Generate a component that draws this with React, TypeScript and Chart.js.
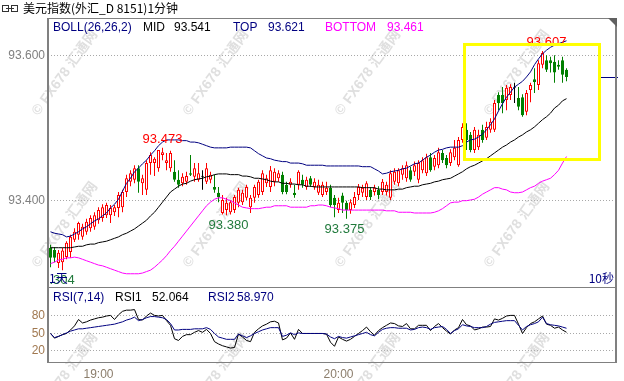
import React, { useEffect, useRef } from 'react';
import { Chart, registerables } from 'chart.js';

Chart.register(...registerables);

// ---------------- DATA ----------------
const titleText = '美元指数(外汇_D 8151)1分钟';

const opens = [
  93.335, 93.332, 93.314, 93.315, 93.322, 93.329, 93.346, 93.353, 93.350, 93.357,
  93.362, 93.364, 93.373, 93.376, 93.380, 93.380, 93.384, 93.390, 93.391, 93.412,
  93.426, 93.429, 93.445, 93.424, 93.415, 93.452, 93.452, 93.445, 93.463, 93.452,
  93.445, 93.440, 93.429, 93.424, 93.426, 93.438, 93.433, 93.429, 93.433, 93.426,
  93.429, 93.419, 93.411, 93.383, 93.387, 93.384, 93.387, 93.397, 93.398, 93.404,
  93.391, 93.404, 93.408, 93.412, 93.424, 93.419, 93.426, 93.431, 93.436, 93.422,
  93.422, 93.411, 93.422, 93.429, 93.419, 93.431, 93.419, 93.411, 93.408, 93.412,
  93.418, 93.404, 93.387, 93.407, 93.397, 93.387, 93.394, 93.408, 93.411, 93.405,
  93.415, 93.412, 93.415, 93.412, 93.412, 93.404, 93.426, 93.424, 93.436, 93.431,
  93.442, 93.440, 93.429, 93.442, 93.438, 93.460, 93.447, 93.449, 93.466, 93.459,
  93.452, 93.460, 93.449, 93.484, 93.498, 93.491, 93.470, 93.474, 93.498, 93.487,
  93.498, 93.498, 93.546, 93.546, 93.539, 93.546, 93.556, 93.542, 93.543, 93.523,
  93.553, 93.568, 93.560, 93.588, 93.594, 93.594, 93.592, 93.588, 93.594, 93.581,
];
const highs = [
  93.339, 93.336, 93.332, 93.335, 93.344, 93.353, 93.362, 93.371, 93.368, 93.375,
  93.380, 93.384, 93.391, 93.395, 93.397, 93.394, 93.394, 93.412, 93.415, 93.436,
  93.442, 93.449, 93.449, 93.436, 93.456, 93.467, 93.460, 93.470, 93.473, 93.466,
  93.469, 93.456, 93.442, 93.438, 93.440, 93.463, 93.452, 93.452, 93.442, 93.452,
  93.440, 93.436, 93.419, 93.408, 93.404, 93.401, 93.408, 93.418, 93.415, 93.422,
  93.408, 93.422, 93.429, 93.442, 93.436, 93.448, 93.445, 93.442, 93.440, 93.426,
  93.431, 93.422, 93.442, 93.436, 93.433, 93.434, 93.431, 93.429, 93.426, 93.426,
  93.422, 93.408, 93.404, 93.411, 93.400, 93.402, 93.412, 93.423, 93.422, 93.427,
  93.419, 93.422, 93.420, 93.430, 93.426, 93.442, 93.445, 93.445, 93.449, 93.454,
  93.447, 93.454, 93.456, 93.460, 93.465, 93.466, 93.463, 93.473, 93.470, 93.463,
  93.471, 93.484, 93.488, 93.507, 93.507, 93.495, 93.502, 93.498, 93.505, 93.509,
  93.514, 93.539, 93.550, 93.557, 93.560, 93.561, 93.563, 93.557, 93.547, 93.553,
  93.563, 93.583, 93.594, 93.607, 93.601, 93.599, 93.601, 93.594, 93.599, 93.583,
];
const lows = [
  93.308, 93.315, 93.307, 93.304, 93.319, 93.321, 93.343, 93.346, 93.346, 93.353,
  93.357, 93.360, 93.368, 93.371, 93.376, 93.369, 93.379, 93.377, 93.384, 93.405,
  93.420, 93.424, 93.411, 93.408, 93.408, 93.436, 93.434, 93.440, 93.456, 93.442,
  93.440, 93.426, 93.418, 93.420, 93.422, 93.434, 93.426, 93.426, 93.415, 93.423,
  93.424, 93.411, 93.398, 93.381, 93.380, 93.381, 93.383, 93.391, 93.394, 93.401,
  93.383, 93.397, 93.404, 93.408, 93.419, 93.412, 93.420, 93.426, 93.409, 93.409,
  93.418, 93.404, 93.415, 93.418, 93.415, 93.419, 93.415, 93.408, 93.405, 93.408,
  93.391, 93.377, 93.383, 93.383, 93.375, 93.382, 93.390, 93.401, 93.405, 93.401,
  93.401, 93.407, 93.402, 93.408, 93.407, 93.401, 93.422, 93.420, 93.429, 93.426,
  93.426, 93.434, 93.424, 93.438, 93.434, 93.440, 93.442, 93.445, 93.452, 93.445,
  93.448, 93.456, 93.447, 93.480, 93.470, 93.467, 93.466, 93.470, 93.480, 93.484,
  93.494, 93.495, 93.525, 93.521, 93.525, 93.539, 93.535, 93.525, 93.516, 93.518,
  93.536, 93.549, 93.553, 93.583, 93.578, 93.577, 93.563, 93.581, 93.563, 93.565,
];
const closes = [
  93.321, 93.321, 93.328, 93.331, 93.342, 93.350, 93.357, 93.369, 93.364, 93.371,
  93.376, 93.380, 93.387, 93.391, 93.394, 93.390, 93.391, 93.408, 93.412, 93.431,
  93.438, 93.445, 93.426, 93.431, 93.452, 93.463, 93.458, 93.470, 93.467, 93.456,
  93.466, 93.429, 93.422, 93.433, 93.434, 93.436, 93.445, 93.438, 93.433, 93.445,
  93.436, 93.415, 93.405, 93.401, 93.397, 93.398, 93.405, 93.415, 93.411, 93.419,
  93.404, 93.419, 93.426, 93.438, 93.431, 93.442, 93.440, 93.438, 93.412, 93.412,
  93.426, 93.408, 93.440, 93.422, 93.429, 93.422, 93.426, 93.422, 93.422, 93.418,
  93.394, 93.394, 93.397, 93.397, 93.387, 93.398, 93.405, 93.419, 93.418, 93.424,
  93.405, 93.418, 93.408, 93.426, 93.422, 93.438, 93.440, 93.442, 93.445, 93.449,
  93.429, 93.449, 93.452, 93.456, 93.460, 93.442, 93.459, 93.467, 93.456, 93.449,
  93.467, 93.473, 93.484, 93.502, 93.484, 93.470, 93.498, 93.491, 93.484, 93.502,
  93.509, 93.535, 93.535, 93.535, 93.556, 93.557, 93.556, 93.530, 93.518, 93.549,
  93.560, 93.564, 93.590, 93.604, 93.581, 93.590, 93.577, 93.585, 93.574, 93.571,
];

const bollUpper = [
  93.357, 93.355, 93.354, 93.353, 93.350, 93.351, 93.354, 93.357, 93.361, 93.364,
  93.368, 93.372, 93.375, 93.379, 93.383, 93.390, 93.395, 93.402, 93.413, 93.424,
  93.431, 93.440, 93.445, 93.451, 93.456, 93.463, 93.469, 93.476, 93.481, 93.484,
  93.484, 93.484, 93.484, 93.483, 93.483, 93.481, 93.481, 93.480, 93.478, 93.476,
  93.474, 93.473, 93.473, 93.473, 93.473, 93.474, 93.474, 93.474, 93.474, 93.474,
  93.473, 93.469, 93.465, 93.462, 93.459, 93.458, 93.456, 93.455, 93.454, 93.454,
  93.452, 93.452, 93.452, 93.451, 93.449, 93.449, 93.449, 93.449, 93.449, 93.448,
  93.448, 93.448, 93.448, 93.448, 93.448, 93.448, 93.448, 93.448, 93.447, 93.447,
  93.447, 93.444, 93.441, 93.437, 93.438, 93.440, 93.441, 93.442, 93.444, 93.445,
  93.448, 93.451, 93.452, 93.456, 93.460, 93.463, 93.467, 93.470, 93.471, 93.473,
  93.474, 93.474, 93.474, 93.476, 93.481, 93.484, 93.485, 93.488, 93.492, 93.498,
  93.505, 93.513, 93.524, 93.534, 93.543, 93.550, 93.557, 93.561, 93.565, 93.571,
  93.578, 93.588, 93.596, 93.603, 93.608, 93.612, 93.615, 93.617, 93.619, 93.621,
];
const bollMid = [
  93.335, 93.335, 93.335, 93.335, 93.335, 93.335, 93.336, 93.337, 93.337, 93.339,
  93.340, 93.340, 93.342, 93.343, 93.344, 93.346, 93.348, 93.350, 93.353, 93.355,
  93.358, 93.361, 93.365, 93.369, 93.373, 93.379, 93.384, 93.391, 93.398, 93.405,
  93.412, 93.416, 93.420, 93.423, 93.424, 93.427, 93.429, 93.430, 93.431, 93.433,
  93.434, 93.436, 93.437, 93.437, 93.437, 93.436, 93.436, 93.436, 93.434, 93.434,
  93.433, 93.431, 93.431, 93.430, 93.429, 93.427, 93.426, 93.426, 93.424, 93.424,
  93.423, 93.423, 93.422, 93.422, 93.420, 93.420, 93.419, 93.419, 93.419, 93.419,
  93.419, 93.419, 93.419, 93.419, 93.419, 93.419, 93.419, 93.419, 93.418, 93.418,
  93.418, 93.418, 93.416, 93.416, 93.415, 93.415, 93.415, 93.416, 93.416, 93.418,
  93.419, 93.420, 93.420, 93.422, 93.423, 93.424, 93.426, 93.427, 93.429, 93.430,
  93.431, 93.434, 93.437, 93.440, 93.444, 93.447, 93.449, 93.452, 93.455, 93.458,
  93.462, 93.466, 93.470, 93.474, 93.477, 93.481, 93.484, 93.488, 93.491, 93.495,
  93.498, 93.502, 93.507, 93.512, 93.516, 93.521, 93.528, 93.532, 93.538, 93.541,
];
const bollLower = [
  93.313, 93.315, 93.318, 93.319, 93.321, 93.321, 93.322, 93.321, 93.319, 93.317,
  93.315, 93.313, 93.311, 93.310, 93.308, 93.306, 93.304, 93.302, 93.300, 93.299,
  93.299, 93.299, 93.299, 93.300, 93.302, 93.304, 93.308, 93.313, 93.318, 93.324,
  93.331, 93.337, 93.344, 93.351, 93.358, 93.365, 93.372, 93.379, 93.386, 93.393,
  93.398, 93.402, 93.404, 93.404, 93.402, 93.400, 93.397, 93.394, 93.391, 93.390,
  93.389, 93.389, 93.389, 93.390, 93.391, 93.391, 93.393, 93.393, 93.393, 93.393,
  93.391, 93.391, 93.391, 93.391, 93.391, 93.393, 93.393, 93.394, 93.394, 93.393,
  93.391, 93.390, 93.389, 93.387, 93.387, 93.387, 93.387, 93.387, 93.387, 93.387,
  93.387, 93.387, 93.387, 93.387, 93.386, 93.386, 93.386, 93.384, 93.384, 93.384,
  93.384, 93.383, 93.383, 93.383, 93.383, 93.383, 93.384, 93.386, 93.389, 93.393,
  93.397, 93.398, 93.398, 93.400, 93.400, 93.401, 93.402, 93.405, 93.409, 93.412,
  93.415, 93.418, 93.418, 93.416, 93.415, 93.412, 93.411, 93.411, 93.412, 93.415,
  93.418, 93.420, 93.424, 93.427, 93.429, 93.431, 93.436, 93.442, 93.452, 93.461,
];

const rsi1 = [
  50, 42, 45, 48, 50, 56, 63, 74, 68, 70,
  73, 75, 77, 78, 80, 81, 74, 82, 88, 90,
  90, 91, 74, 73, 80, 85, 81, 80, 81, 72,
  64, 41, 38, 45, 48, 48, 52, 55, 52, 57,
  50, 36, 32, 29, 27, 25, 26, 49, 44, 38,
  36, 52, 58, 63, 66, 70, 71, 68, 39, 42,
  51, 40, 57, 50, 50, 50, 50, 50, 50, 49,
  35, 28, 44, 40, 37, 40, 45, 50, 55, 61,
  53, 47, 55, 60, 64, 68, 67, 63, 62, 67,
  58, 58, 64, 64, 64, 55, 62, 67, 60, 54,
  49, 56, 60, 74, 65, 63, 56, 58, 61, 61,
  62, 75, 73, 76, 80, 81, 81, 66, 50, 60,
  67, 70, 75, 80, 66, 64, 59, 61, 56, 52.064,
];
const rsi2 = [
  50, 43, 45, 48, 51, 54, 56, 58, 58, 59,
  60, 61, 62, 63, 64, 65, 66, 68, 70, 73,
  75, 78, 72, 74, 77, 79, 79, 78, 77, 74,
  67, 56, 56, 57, 57, 57, 58, 58, 58, 60,
  57, 50, 44, 42, 40, 40, 40, 49, 46, 43,
  46, 50, 53, 56, 58, 60, 60, 60, 45, 47,
  51, 48, 51, 50, 50, 50, 50, 50, 50, 49,
  44, 41, 45, 43, 42, 44, 46, 48, 50, 52,
  48, 46, 52, 57, 59, 60, 60, 59, 59, 59,
  56, 57, 60, 61, 60, 57, 60, 61, 62, 57,
  50, 55, 58, 65, 63, 62, 60, 60, 60, 62,
  66, 69, 70, 71, 72, 72, 72, 64, 56, 62,
  65, 67, 70, 78, 67, 65, 64, 63, 61, 58.970,
];

const priceTicks = [93.4, 93.6];
const rsiTicks = [20, 50, 80];
const timeTickIndex = [12, 72];
const timeTickLabels = ['19:00', '20:00'];

// extreme-price annotations (candle index, price)
const extremeLabels = [
  { index: 28, price: 93.473, side: 'above', color: '#ff0000' },
  { index: 124, price: 93.607, side: 'above', color: '#ff0000' },
  { index: 44.5, price: 93.38, side: 'below', color: '#217a3c' },
  { index: 73.5, price: 93.375, side: 'below', color: '#217a3c' },
  { index: 1.1, price: 93.304, side: 'below', color: '#217a3c' },
];
// user-drawn highlight rectangle (candle index range, price range)
const highlightBox = { from: 103.5, to: 137.25, top: 93.6159, bottom: 93.4569 };

// ---------------- STYLE / LAYOUT ----------------
const FONT = "'Liberation Sans', 'Noto Sans CJK SC', sans-serif";
const CJK = "'Noto Sans CJK SC', 'Liberation Sans', sans-serif";
const X_MIN = -0.625;
const X_MAX = 141.125;
const UP = '#ff0000';
const DOWN = '#008000';
const DOJI = '#000000';
const NAVY = '#000080';
const FRAME = '#808080';

Chart.defaults.font.family = FONT;

const idx = opens.map((_, i) => i);
const dirOf = (i: number) => (closes[i] > opens[i] ? 1 : closes[i] < opens[i] ? -1 : 0);
const colorOf = (i: number) => (dirOf(i) > 0 ? UP : dirOf(i) < 0 ? DOWN : DOJI);
const toXY = (arr: number[]) => arr.map((v, i) => ({ x: i, y: v }));

function drawWatermark(ctx: CanvasRenderingContext2D, cx: number, cy: number) {
  ctx.save();
  ctx.translate(cx, cy);
  ctx.rotate((-54 * Math.PI) / 180);
  ctx.font = `bold 14px ${FONT}`;
  ctx.fillStyle = 'rgba(185,185,185,0.45)';
  ctx.textAlign = 'center';
  ctx.textBaseline = 'middle';
  ctx.fillText('© FX678 汇通网', 0, 0);
  ctx.restore();
}

function drawTexts(ctx: CanvasRenderingContext2D, items: any[], y: number, font: string) {
  ctx.save();
  ctx.font = font;
  ctx.textAlign = 'left';
  ctx.textBaseline = 'alphabetic';
  items.forEach((it) => {
    ctx.fillStyle = it.color;
    ctx.fillText(it.text, it.x, y);
  });
  ctx.restore();
}

const last = opens.length - 1;

const noPadY = (s: any) => {
  s.width = 48;
  s.paddingTop = 0;
  s.paddingBottom = 0;
};

const mainDecor = {
  id: 'mainDecor',
  beforeDatasetsDraw(chart: any) {
    const ctx = chart.ctx;
    [65, 216, 368, 517].forEach((x) => {
      drawWatermark(ctx, x, 73);
      drawWatermark(ctx, x, 225);
    });
  },
  afterDatasetsDraw(chart: any) {
    const ctx: CanvasRenderingContext2D = chart.ctx;
    const { left, right, top, bottom } = chart.chartArea;
    const xs = chart.scales.x;
    const ys = chart.scales.y;

    // extreme labels
    ctx.save();
    ctx.beginPath();
    ctx.rect(left + 1, 0, right - left, bottom);
    ctx.clip();
    ctx.font = `13px ${FONT}`;
    ctx.textAlign = 'center';
    ctx.textBaseline = 'alphabetic';
    extremeLabels.forEach((l) => {
      const x = xs.getPixelForValue(l.index);
      const y = ys.getPixelForValue(l.price) + (l.side === 'above' ? -5 : 14);
      ctx.fillStyle = l.color;
      ctx.fillText(l.price.toFixed(3), x, y);
    });
    ctx.restore();

    // period markers
    ctx.save();
    ctx.font = `12px ${CJK}`;
    ctx.fillStyle = NAVY;
    ctx.textAlign = 'left';
    ctx.fillText('1天', left + 1, bottom - 4);
    ctx.textAlign = 'right';
    ctx.fillText('10秒', right - 1, bottom - 4);
    ctx.restore();

    // highlight box
    ctx.save();
    ctx.strokeStyle = '#ffff00';
    ctx.lineWidth = 3;
    const bx0 = xs.getPixelForValue(highlightBox.from);
    const bx1 = xs.getPixelForValue(highlightBox.to);
    const by0 = ys.getPixelForValue(highlightBox.top);
    const by1 = ys.getPixelForValue(highlightBox.bottom);
    ctx.strokeRect(bx0, by0, bx1 - bx0, by1 - by0);
    ctx.restore();

    // last price marker line
    ctx.save();
    ctx.strokeStyle = NAVY;
    ctx.lineWidth = 1;
    const py = Math.round(ys.getPixelForValue(closes[last])) + 0.5;
    ctx.beginPath();
    ctx.moveTo(right - 14, py);
    ctx.lineTo(right + 3, py);
    ctx.stroke();
    ctx.restore();

    // frame
    ctx.save();
    ctx.fillStyle = FRAME;
    ctx.fillRect(left - 1, top, 2, bottom - top);
    ctx.fillRect(left, top, right - left + 2, 1);
    ctx.fillRect(right, top, 2, bottom - top);
    ctx.fillStyle = '#606060';
    ctx.beginPath();
    ctx.moveTo(right - 7, top);
    ctx.lineTo(right + 2, top);
    ctx.lineTo(right + 2, top + 9);
    ctx.closePath();
    ctx.fill();
    ctx.restore();

    // title
    ctx.save();
    ctx.strokeStyle = '#333';
    ctx.lineWidth = 1;
    ctx.strokeRect(2.5, 5.5, 6, 6);
    ctx.strokeRect(11.5, 5.5, 6, 6);
    ctx.beginPath();
    ctx.moveTo(6, 8.5);
    ctx.lineTo(14, 8.5);
    ctx.stroke();
    ctx.font = `12px ${CJK}`;
    ctx.fillStyle = '#000';
    ctx.textAlign = 'left';
    ctx.fillText(titleText, 23, 13);
    ctx.restore();

    // BOLL header
    drawTexts(ctx, [
      { text: 'BOLL(26,26,2)', x: 53, color: NAVY },
      { text: 'MID', x: 143, color: '#000000' },
      { text: bollMid[last].toFixed(3), x: 174, color: '#000000' },
      { text: 'TOP', x: 233, color: NAVY },
      { text: bollUpper[last].toFixed(3), x: 268, color: NAVY },
      { text: 'BOTTOM', x: 325, color: '#ff00ff' },
      { text: bollLower[last].toFixed(3), x: 387, color: '#ff00ff' },
    ], 31, `12px ${FONT}`);
  },
};

const rsiDecor = {
  id: 'rsiDecor',
  beforeDatasetsDraw(chart: any) {
    const ctx = chart.ctx;
    [65, 216, 368, 517].forEach((x) => drawWatermark(ctx, x, 89));
  },
  afterDatasetsDraw(chart: any) {
    const ctx: CanvasRenderingContext2D = chart.ctx;
    const { left, right, top, bottom } = chart.chartArea;
    ctx.save();
    ctx.fillStyle = FRAME;
    ctx.fillRect(left - 1, top, 2, bottom - top + 1);
    ctx.fillRect(left, top, right - left + 2, 1);
    ctx.fillRect(left, bottom, right - left + 2, 1);
    ctx.fillRect(right, top, 2, bottom - top + 1);
    ctx.restore();
    drawTexts(ctx, [
      { text: 'RSI(7,14)', x: 53, color: NAVY },
      { text: 'RSI1', x: 115, color: '#000000' },
      { text: rsi1[last].toFixed(3), x: 152, color: '#000000' },
      { text: 'RSI2', x: 208, color: NAVY },
      { text: rsi2[last].toFixed(3), x: 237, color: NAVY },
    ], 14, `12px ${FONT}`);
  },
};

function lineDs(label: string, data: number[], color: string, order: number) {
  return {
    type: 'line',
    label,
    data: toXY(data),
    borderColor: color,
    borderWidth: 1,
    pointRadius: 0,
    tension: 0,
    fill: false,
    order,
  };
}

export default function App() {
  const mainRef = useRef<HTMLCanvasElement>(null);
  const rsiRef = useRef<HTMLCanvasElement>(null);

  useEffect(() => {
    const main = new Chart(mainRef.current as HTMLCanvasElement, {
      type: 'bar',
      data: {
        datasets: [
          lineDs('TOP', bollUpper, NAVY, 0),
          lineDs('MID', bollMid, '#000000', 0),
          lineDs('BOTTOM', bollLower, '#ff00ff', 0),
          {
            type: 'bar',
            label: 'body',
            data: idx.map((i) => ({ x: i, y: [opens[i], closes[i]] })),
            backgroundColor: idx.map((i) => (dirOf(i) > 0 ? '#ffffff' : colorOf(i))),
            borderColor: idx.map(colorOf),
            borderWidth: 1,
            borderSkipped: false,
            barThickness: 3,
            minBarLength: 1,
            grouped: false,
            inflateAmount: 0,
            order: 1,
          },
          {
            type: 'bar',
            label: 'wick',
            data: idx.map((i) => ({ x: i, y: [lows[i], highs[i]] })),
            backgroundColor: idx.map(colorOf),
            borderWidth: 0,
            barThickness: 1,
            grouped: false,
            inflateAmount: 0,
            order: 2,
          },
        ] as any,
      },
      options: {
        responsive: false,
        animation: false,
        devicePixelRatio: 1,
        layout: { padding: { left: 0, right: 9, top: 18, bottom: 0 } },
        plugins: { legend: { display: false }, tooltip: { enabled: false } },
        scales: {
          x: { type: 'linear', min: X_MIN, max: X_MAX, offset: false, display: false },
          y: {
            type: 'linear',
            min: 93.2807,
            max: 93.6525,
            afterFit: noPadY,
            afterBuildTicks: (s: any) => { s.ticks = priceTicks.map((v) => ({ value: v })); },
            ticks: {
              callback: (v: any) => Number(v).toFixed(3),
              color: '#7f7f7f',
              font: { size: 12, family: FONT },
              padding: 3,
            },
            grid: { color: '#a8a8a8', drawTicks: false, lineWidth: 1 },
            border: { display: false, dash: [1, 2] },
          },
        },
      } as any,
      plugins: [mainDecor],
    } as any);

    const rsi = new Chart(rsiRef.current as HTMLCanvasElement, {
      type: 'line',
      data: {
        datasets: [
          lineDs('RSI2', rsi2, NAVY, 0),
          lineDs('RSI1', rsi1, '#000000', 1),
        ] as any,
      },
      options: {
        responsive: false,
        animation: false,
        devicePixelRatio: 1,
        layout: { padding: { left: 0, right: 9, top: 0, bottom: 0 } },
        plugins: { legend: { display: false }, tooltip: { enabled: false } },
        scales: {
          x: {
            type: 'linear',
            min: X_MIN,
            max: X_MAX,
            offset: false,
            afterFit: (s: any) => {
              s.height = 19;
              s.paddingLeft = 0;
              s.paddingRight = 0;
            },
            afterBuildTicks: (s: any) => { s.ticks = timeTickIndex.map((v) => ({ value: v })); },
            ticks: {
              callback: (v: any) => {
                const k = timeTickIndex.indexOf(Number(v));
                return k >= 0 ? timeTickLabels[k] : '';
              },
              color: '#8b7d6b',
              font: { size: 12, family: FONT },
              padding: -3,
              maxRotation: 0,
              autoSkip: false,
            },
            grid: { display: false },
            border: { display: false },
          },
          y: {
            type: 'linear',
            min: 1.1,
            max: 129.7,
            afterFit: noPadY,
            afterBuildTicks: (s: any) => { s.ticks = rsiTicks.map((v) => ({ value: v })); },
            ticks: {
              color: '#a07850',
              font: { size: 12, family: FONT },
              padding: 3,
            },
            grid: { color: '#a8a8a8', drawTicks: false, lineWidth: 1 },
            border: { display: false, dash: [1, 2] },
          },
        },
      } as any,
      plugins: [rsiDecor],
    } as any);

    return () => {
      main.destroy();
      rsi.destroy();
    };
  }, []);

  return (
    <div style={{ position: 'absolute', left: 0, top: 0, width: 624, height: 381, background: '#ffffff', overflow: 'hidden' }}>
      <canvas ref={mainRef} width={624} height={287} style={{ position: 'absolute', left: 0, top: 0, width: 624, height: 287 }} />
      <canvas ref={rsiRef} width={624} height={94} style={{ position: 'absolute', left: 0, top: 287, width: 624, height: 94 }} />
    </div>
  );
}
